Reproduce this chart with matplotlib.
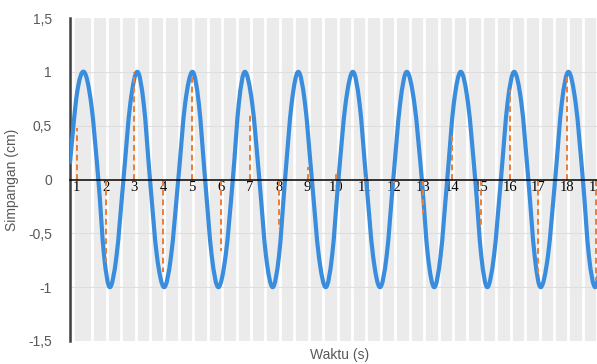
import numpy as np
import matplotlib
matplotlib.use("Agg")
import matplotlib.pyplot as plt
from matplotlib.path import Path
from matplotlib.patches import PathPatch

# measured wave (waktu in s, simpangan in cm)
wave_t = [0.77, 1.01, 1.25, 1.50, 1.75, 1.95, 2.15, 2.38, 2.62, 2.86,
          3.10, 3.32, 3.54, 3.78, 4.03, 4.27, 4.52, 4.76, 5.01, 5.23,
          5.45, 5.68, 5.91, 6.16, 6.41, 6.62, 6.83, 7.08, 7.33, 7.56,
          7.79, 8.01, 8.22, 8.45, 8.68, 8.91, 9.15, 9.39, 9.63, 9.85,
          10.07, 10.32, 10.57, 10.80, 11.03, 11.27, 11.51, 11.74, 11.97, 12.21,
          12.44, 12.70, 12.96, 13.17, 13.39, 13.61, 13.84, 14.07, 14.31, 14.56,
          14.81, 15.02, 15.23, 15.46, 15.70, 15.93, 16.16, 16.41, 16.65, 16.87,
          17.08, 17.33, 17.58, 17.81, 18.04, 18.29, 18.54, 18.75, 18.97, 19.20]
wave_y = [0.16, 0.80, 1.00, 0.71, 0.00, -0.71, -1.00, -0.71, 0.00, 0.71,
          1.00, 0.71, 0.00, -0.71, -1.00, -0.71, 0.00, 0.71, 1.00, 0.71,
          0.00, -0.71, -1.00, -0.71, 0.00, 0.71, 1.00, 0.71, 0.00, -0.71,
          -1.00, -0.71, 0.00, 0.71, 1.00, 0.71, 0.00, -0.71, -1.00, -0.71,
          0.00, 0.71, 1.00, 0.71, 0.00, -0.71, -1.00, -0.71, 0.00, 0.71,
          1.00, 0.71, 0.00, -0.71, -1.00, -0.71, 0.00, 0.71, 1.00, 0.71,
          0.00, -0.71, -1.00, -0.71, 0.00, 0.71, 1.00, 0.71, 0.00, -0.71,
          -1.00, -0.71, 0.00, 0.71, 1.00, 0.71, 0.00, -0.71, -1.00, -0.71]

# samples taken every second
sample_t = list(range(1, 20))
sample_y = [0.48, -0.77, 1.00, -0.86, 0.99, -0.66, 0.63, -0.46, 0.12, 0.05,
            0.02, -0.03, -0.31, 0.40, -0.46, 0.83, -0.88, 0.99, -0.93]

y_ticks = [-1.5, -1, -0.5, 0, 0.5, 1, 1.5]
y_labels = ["-1,5", "-1", "-0,5", "0", "0,5", "1", "1,5"]


def smooth_path(x, y):
    pts = np.column_stack([x, y])
    p = np.vstack([pts[0], pts, pts[-1]])
    verts = [pts[0]]
    codes = [Path.MOVETO]
    for i in range(len(pts) - 1):
        p0, p1, p2, p3 = p[i], p[i + 1], p[i + 2], p[i + 3]
        verts += [p1 + (p2 - p0) / 6, p2 - (p3 - p1) / 6, p2]
        codes += [Path.CURVE4] * 3
    return Path(verts, codes)


fig = plt.figure(figsize=(5.97, 3.64), dpi=100)
ax = fig.add_axes([70 / 597, 23 / 364, 1 - 70 / 597, 323 / 364])
ax.set_xlim(0.768, 19.03)
ax.set_ylim(-1.5, 1.5)
ax.set_facecolor("#ebebeb")

# white gaps between the grey bands
for xg in [0.88] + list(np.arange(1.54, 19.1, 0.5)):
    ax.axvline(xg, color="white", lw=2.0, zorder=1)
for yg in [-1, -0.5, 0.5, 1]:
    ax.axhline(yg, color="#dedede", lw=0.8, zorder=1.5)

ax.add_patch(PathPatch(smooth_path(wave_t, wave_y), fill=False,
                       edgecolor="#3a8ddd", lw=3.0, capstyle="round",
                       joinstyle="round", zorder=3))

ax.vlines(sample_t, 0, sample_y, colors="#ed7d31", linestyles=(0, (3, 2)),
          lw=1.4, zorder=4)

ax.spines["top"].set_visible(False)
ax.spines["right"].set_visible(False)
ax.spines["left"].set_color("#404040")
ax.spines["left"].set_linewidth(1.8)
ax.spines["bottom"].set_position(("data", 0))
ax.spines["bottom"].set_color("black")
ax.spines["bottom"].set_linewidth(1.1)
ax.spines["bottom"].set_zorder(5)

ax.set_yticks(y_ticks)
ax.set_yticklabels(y_labels, fontfamily="Liberation Sans", fontsize=10, color="#595959")
ax.tick_params(axis="y", length=0, pad=13)
ax.set_xticks(sample_t)
ax.set_xticklabels([str(v) for v in sample_t], fontfamily="Liberation Serif",
                   fontsize=10.5, color="black")
ax.tick_params(axis="x", length=0, pad=1)
for lbl in ax.get_xticklabels():
    lbl.set_zorder(6)

fig.text(12 / 597, 1 - 180 / 364, "Simpangan (cm)", rotation=90, ha="center",
         va="center", fontfamily="Liberation Sans", fontsize=10, color="#595959")
fig.text(340 / 597, 1 - 355 / 364, "Waktu (s)", ha="center", va="center",
         fontfamily="Liberation Sans", fontsize=10, color="#595959")

fig.savefig("out.png", dpi=100)
